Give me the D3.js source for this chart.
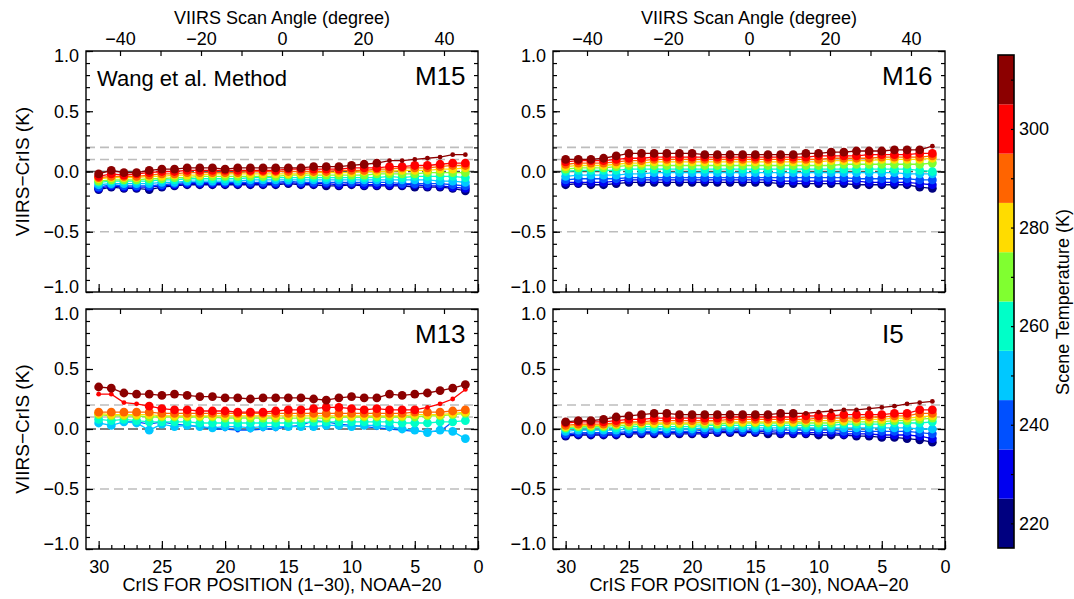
<!DOCTYPE html>
<html>
<head>
<meta charset="utf-8">
<script src="https://cdnjs.cloudflare.com/ajax/libs/d3/7.8.5/d3.min.js"></script>
<style>
  body { margin: 0; background: #fff; }
  text { font-family: 'Liberation Sans', Arial, sans-serif; fill: #000; }
</style>
</head>
<body>
<div id="chart"></div>
<script>
// ---------------------------------------------------------------
// data (each series: CrIS FOR 30 -> FOR 1, left to right)
// ---------------------------------------------------------------
var forPos = [30,29,28,27,26,25,24,23,22,21,20,19,18,17,16,15,14,13,12,11,10,9,8,7,6,5,4,3,2,1];
var tempBins = [220,230,240,250,260,270,280,290,300,310];
var binColors = ["#000080","#0000F0","#0050FF","#00C8FF","#00FFC8","#80FF30","#FFDC00","#FF6400","#FF0000","#8C0000"];
var angleTicks = [-40,-30,-20,-10,0,10,20,30,40];
var angleLabels = [-40,-20,0,20,40];
var forLabels = [30,25,20,15,10,5,0];
var yLabels = [-1.0,-0.5,0.0,0.5,1.0];
var refLines = [0.2,0.1,-0.5];
var cbLabels = [220,240,260,280,300];

var m15 = [
  [-0.15,-0.13,-0.14,-0.14,-0.15,-0.13,-0.12,-0.11,-0.11,-0.11,-0.11,-0.11,-0.11,-0.11,-0.11,-0.10,-0.11,-0.11,-0.12,-0.12,-0.11,-0.12,-0.12,-0.12,-0.12,-0.13,-0.13,-0.13,-0.14,-0.16],
  [-0.14,-0.12,-0.13,-0.13,-0.13,-0.12,-0.11,-0.10,-0.10,-0.10,-0.10,-0.10,-0.10,-0.10,-0.10,-0.09,-0.10,-0.10,-0.10,-0.11,-0.10,-0.11,-0.11,-0.11,-0.11,-0.11,-0.12,-0.12,-0.13,-0.14],
  [-0.13,-0.11,-0.12,-0.12,-0.12,-0.11,-0.10,-0.09,-0.09,-0.09,-0.09,-0.09,-0.09,-0.09,-0.09,-0.08,-0.09,-0.09,-0.09,-0.09,-0.09,-0.09,-0.09,-0.09,-0.10,-0.10,-0.10,-0.10,-0.11,-0.12],
  [-0.11,-0.10,-0.10,-0.10,-0.10,-0.09,-0.09,-0.08,-0.08,-0.08,-0.08,-0.08,-0.07,-0.07,-0.07,-0.07,-0.07,-0.07,-0.07,-0.07,-0.07,-0.07,-0.07,-0.07,-0.07,-0.07,-0.07,-0.08,-0.08,-0.09],
  [-0.09,-0.08,-0.08,-0.08,-0.08,-0.07,-0.07,-0.06,-0.06,-0.06,-0.06,-0.06,-0.05,-0.05,-0.05,-0.05,-0.05,-0.05,-0.05,-0.05,-0.05,-0.05,-0.05,-0.04,-0.05,-0.04,-0.04,-0.04,-0.04,-0.05],
  [-0.08,-0.07,-0.07,-0.07,-0.06,-0.06,-0.05,-0.05,-0.04,-0.04,-0.04,-0.04,-0.04,-0.04,-0.04,-0.03,-0.03,-0.03,-0.03,-0.03,-0.03,-0.03,-0.02,-0.02,-0.02,-0.02,-0.01,-0.01,-0.01,-0.01],
  [-0.06,-0.05,-0.05,-0.05,-0.04,-0.04,-0.03,-0.03,-0.03,-0.02,-0.02,-0.02,-0.02,-0.02,-0.02,-0.02,-0.02,-0.01,-0.01,-0.01,-0.01,0.00,0.00,0.00,0.01,0.01,0.01,0.02,0.02,0.03],
  [-0.05,-0.04,-0.04,-0.04,-0.03,-0.02,-0.02,-0.01,-0.01,-0.01,-0.01,-0.01,0.00,0.00,0.00,0.00,0.00,0.00,0.00,0.01,0.01,0.01,0.02,0.02,0.03,0.03,0.03,0.04,0.05,0.05],
  [-0.04,-0.02,-0.03,-0.02,-0.01,0.00,0.00,0.01,0.01,0.01,0.01,0.01,0.01,0.01,0.01,0.02,0.02,0.02,0.02,0.02,0.03,0.03,0.03,0.04,0.04,0.05,0.05,0.06,0.07,0.07],
  [-0.02,0.01,-0.01,-0.01,0.01,0.02,0.02,0.03,0.03,0.03,0.02,0.03,0.03,0.03,0.03,0.03,0.03,0.04,0.04,0.04,0.05,0.06,0.07,0.09,0.09,0.10,0.11,0.12,0.14,0.14]
];
var m16 = [
  [-0.11,-0.10,-0.11,-0.11,-0.10,-0.09,-0.09,-0.09,-0.09,-0.09,-0.09,-0.09,-0.09,-0.09,-0.09,-0.09,-0.09,-0.10,-0.10,-0.10,-0.10,-0.10,-0.10,-0.11,-0.11,-0.11,-0.11,-0.11,-0.13,-0.14],
  [-0.09,-0.09,-0.09,-0.09,-0.08,-0.07,-0.07,-0.07,-0.07,-0.07,-0.07,-0.07,-0.07,-0.07,-0.07,-0.07,-0.07,-0.08,-0.08,-0.08,-0.08,-0.08,-0.08,-0.08,-0.09,-0.09,-0.09,-0.09,-0.10,-0.11],
  [-0.07,-0.06,-0.06,-0.06,-0.06,-0.05,-0.05,-0.05,-0.05,-0.05,-0.05,-0.05,-0.05,-0.05,-0.05,-0.05,-0.05,-0.05,-0.05,-0.05,-0.05,-0.05,-0.05,-0.06,-0.06,-0.06,-0.06,-0.06,-0.07,-0.07],
  [-0.04,-0.03,-0.03,-0.03,-0.03,-0.02,-0.02,-0.01,-0.01,-0.01,-0.01,-0.01,-0.01,-0.01,-0.01,-0.01,-0.01,-0.01,-0.01,-0.01,-0.01,-0.01,-0.01,-0.01,-0.01,-0.01,-0.01,-0.02,-0.02,-0.02],
  [0.00,0.01,0.01,0.01,0.01,0.02,0.02,0.02,0.02,0.02,0.02,0.02,0.02,0.02,0.02,0.02,0.02,0.02,0.02,0.02,0.02,0.02,0.02,0.02,0.02,0.02,0.02,0.02,0.01,0.00],
  [0.02,0.03,0.03,0.03,0.04,0.05,0.05,0.05,0.05,0.05,0.05,0.05,0.05,0.05,0.05,0.05,0.05,0.05,0.05,0.05,0.05,0.05,0.06,0.06,0.06,0.06,0.06,0.06,0.06,0.07],
  [0.04,0.05,0.05,0.05,0.06,0.07,0.07,0.08,0.08,0.08,0.08,0.08,0.08,0.08,0.08,0.08,0.08,0.08,0.08,0.08,0.08,0.09,0.09,0.09,0.09,0.10,0.10,0.10,0.10,0.11],
  [0.06,0.07,0.07,0.07,0.08,0.09,0.09,0.10,0.10,0.10,0.10,0.10,0.10,0.10,0.10,0.10,0.10,0.10,0.10,0.10,0.10,0.11,0.11,0.11,0.11,0.12,0.12,0.12,0.12,0.13],
  [0.08,0.09,0.09,0.09,0.10,0.11,0.11,0.12,0.12,0.12,0.12,0.12,0.12,0.12,0.12,0.12,0.12,0.12,0.12,0.12,0.13,0.13,0.13,0.13,0.14,0.14,0.14,0.14,0.15,0.15],
  [0.10,0.10,0.10,0.11,0.13,0.15,0.15,0.15,0.15,0.15,0.15,0.14,0.14,0.14,0.14,0.14,0.14,0.14,0.14,0.15,0.15,0.16,0.16,0.17,0.17,0.17,0.18,0.18,0.18,0.21]
];
var m13 = [
  null,
  null,
  [null,null,0.06,0.06,0.04,0.06,0.04,0.03,0.02,0.00,0.00,-0.01,-0.01,0.00,0.00,0.02,0.03,0.07,0.06,0.04,0.03,0.02,0.01,0.00,-0.01,-0.02,-0.02,-0.02,0.06,null],
  [0.05,0.03,0.06,0.05,-0.01,0.04,0.02,0.03,0.02,0.01,0.02,0.02,0.01,0.02,0.02,0.02,0.02,0.02,0.03,0.03,0.02,0.03,0.03,0.02,0.00,-0.01,-0.03,-0.01,-0.02,-0.08],
  [0.08,0.07,0.08,0.07,0.06,0.06,0.06,0.06,0.05,0.05,0.05,0.05,0.05,0.05,0.05,0.05,0.05,0.06,0.06,0.06,0.06,0.06,0.06,0.06,0.05,0.05,0.05,0.06,0.06,0.07],
  [0.12,0.11,0.11,0.11,0.10,0.10,0.10,0.10,0.10,0.10,0.09,0.09,0.09,0.09,0.09,0.09,0.09,0.09,0.09,0.10,0.10,0.10,0.10,0.10,0.10,0.10,0.11,0.11,0.12,0.13],
  [0.13,0.12,0.12,0.12,0.12,0.11,0.11,0.11,0.11,0.11,0.11,0.11,0.11,0.11,0.11,0.11,0.11,0.11,0.11,0.11,0.11,0.11,0.11,0.11,0.11,0.12,0.12,0.12,0.13,0.14],
  [0.14,0.14,0.14,0.14,0.14,0.13,0.13,0.13,0.13,0.13,0.13,0.13,0.13,0.13,0.13,0.13,0.13,0.13,0.13,0.13,0.13,0.13,0.13,0.13,0.13,0.14,0.14,0.14,0.15,0.16],
  [0.29,0.29,0.22,0.21,0.19,0.17,0.16,0.16,0.15,0.15,0.15,0.14,0.14,0.14,0.15,0.16,0.16,0.17,0.18,0.18,0.17,0.16,0.17,0.16,0.16,0.16,0.18,0.21,0.25,0.33],
  [0.35,0.34,0.30,0.29,0.29,0.28,0.29,0.28,0.27,0.27,0.26,0.26,0.25,0.26,0.26,0.26,0.26,0.25,0.24,0.26,0.27,0.26,0.26,0.29,0.28,0.29,0.30,0.32,0.34,0.37]
];
var i5 = [
  [-0.06,-0.05,-0.05,-0.05,-0.05,-0.04,-0.04,-0.04,-0.04,-0.04,-0.04,-0.04,-0.03,-0.03,-0.03,-0.03,-0.04,-0.04,-0.04,-0.04,-0.05,-0.05,-0.05,-0.06,-0.06,-0.07,-0.07,-0.08,-0.09,-0.11],
  [-0.05,-0.04,-0.04,-0.04,-0.04,-0.03,-0.03,-0.03,-0.03,-0.03,-0.03,-0.03,-0.02,-0.02,-0.02,-0.02,-0.02,-0.03,-0.03,-0.03,-0.03,-0.03,-0.04,-0.04,-0.04,-0.05,-0.05,-0.05,-0.06,-0.08],
  [-0.04,-0.03,-0.03,-0.03,-0.03,-0.02,-0.02,-0.02,-0.02,-0.02,-0.02,-0.01,-0.01,-0.01,-0.01,-0.01,-0.01,-0.01,-0.01,-0.01,-0.01,-0.01,-0.02,-0.02,-0.02,-0.02,-0.02,-0.02,-0.03,-0.04],
  [-0.02,-0.01,-0.01,-0.01,-0.01,0.00,0.00,0.00,0.00,0.00,0.00,0.01,0.01,0.01,0.01,0.01,0.01,0.01,0.01,0.01,0.01,0.01,0.01,0.01,0.01,0.01,0.01,0.01,0.00,0.00],
  [0.00,0.01,0.01,0.01,0.01,0.02,0.02,0.02,0.02,0.02,0.02,0.03,0.03,0.03,0.03,0.03,0.03,0.03,0.03,0.03,0.03,0.03,0.04,0.04,0.04,0.04,0.05,0.05,0.05,0.06],
  [0.01,0.02,0.02,0.02,0.03,0.03,0.04,0.04,0.04,0.04,0.04,0.04,0.04,0.05,0.05,0.05,0.05,0.05,0.05,0.05,0.05,0.05,0.06,0.06,0.06,0.06,0.07,0.07,0.08,0.09],
  [0.02,0.03,0.03,0.03,0.04,0.05,0.05,0.05,0.05,0.05,0.05,0.06,0.06,0.06,0.06,0.06,0.06,0.06,0.06,0.07,0.07,0.07,0.07,0.08,0.08,0.08,0.09,0.09,0.10,0.11],
  [0.03,0.04,0.04,0.04,0.05,0.06,0.06,0.07,0.07,0.07,0.07,0.07,0.07,0.08,0.08,0.08,0.08,0.08,0.08,0.08,0.09,0.09,0.09,0.09,0.10,0.10,0.11,0.11,0.13,0.13],
  [0.05,0.06,0.06,0.06,0.07,0.08,0.08,0.09,0.09,0.09,0.09,0.09,0.09,0.10,0.10,0.10,0.10,0.10,0.10,0.11,0.11,0.11,0.12,0.12,0.12,0.12,0.13,0.13,0.16,0.16],
  [0.06,0.07,0.07,0.08,0.10,0.11,0.12,0.13,0.13,0.12,0.12,0.12,0.12,0.12,0.12,0.12,0.12,0.13,0.13,0.13,0.14,0.15,0.16,0.16,0.17,0.18,0.19,0.21,0.22,0.23]
];

// points drawn with a small symbol (few samples): [bin index, point indices]
var m15Small = [[9, [23,24,25,26,27,28,29]]];
var m16Small = [[9, [29]]];
var m13Small = [[2, [2,3,4,5,6,7,8,9,10,11,12,13,14,15,16,17,18,19,20,21,22,23,24,25,26,27,28]], [8, [0,1,2,3,26,27,28,29]]];
var i5Small = [[9, [19,20,21,22,23,24,25,26,27,28,29]]];

var panelNames = ["M15","M16","M13","I5"];
var panelData = [m15, m16, m13, i5];
var panelSmall = [m15Small, m16Small, m13Small, i5Small];

// ---------------------------------------------------------------
// layout
// ---------------------------------------------------------------
var W = 1074, H = 599;
var colX = [86, 553], panelW = 392;
var rowY = [[51, 292], [309, 549]];
var font = 18;

var svg = d3.select("#chart").append("svg")
  .attr("width", W).attr("height", H);

var line = d3.line()
  .defined(function(d) { return d.v !== null; })
  .x(function(d) { return d.x; })
  .y(function(d) { return d.y; });

function styleAxis(g) {
  g.attr("font-size", font).attr("font-family", "'Liberation Sans', Arial, sans-serif");
  g.select(".domain").remove();
  g.selectAll(".tick line").attr("stroke", "#000").attr("stroke-width", 1.2);
  g.selectAll("text").attr("fill", "#000");
}

panelNames.forEach(function(name, p) {
  var col = p % 2, row = Math.floor(p / 2);
  var x0 = colX[col], x1 = x0 + panelW;
  var yTop = rowY[row][0], yBot = rowY[row][1];

  var x = d3.scaleLinear().domain([31, 0]).range([x0, x1]);
  var xAng = d3.scaleLinear().domain([-48.4, 48.4]).range([x0, x1]);
  var y = d3.scaleLinear().domain([-1, 1]).range([yBot, yTop]);

  var g = svg.append("g");

  // reference lines
  g.selectAll(".ref").data(refLines).enter().append("line")
    .attr("x1", x0).attr("x2", x1)
    .attr("y1", function(d) { return y(d); }).attr("y2", function(d) { return y(d); })
    .attr("stroke", "#bdbdbd").attr("stroke-width", 1.6).attr("stroke-dasharray", "9,5");
  g.append("line")
    .attr("x1", x0).attr("x2", x1).attr("y1", y(0)).attr("y2", y(0))
    .attr("stroke", "#555").attr("stroke-width", 1.6).attr("stroke-dasharray", "10,4");

  // series, cold first
  var smallLookup = {};
  panelSmall[p].forEach(function(s) { smallLookup[s[0]] = s[1]; });

  panelData[p].forEach(function(series, b) {
    if (!series) return;
    var pts = series.map(function(v, i) {
      return { v: v, x: x(forPos[i]), y: v === null ? 0 : y(v), i: i };
    });
    var small = smallLookup[b] || [];
    g.append("path").datum(pts)
      .attr("d", line)
      .attr("fill", "none")
      .attr("stroke", binColors[b])
      .attr("stroke-width", 1.3);
    g.selectAll(null).data(pts.filter(function(d) { return d.v !== null; }))
      .enter().append("circle")
      .attr("cx", function(d) { return d.x; })
      .attr("cy", function(d) { return d.y; })
      .attr("r", function(d) { return small.indexOf(d.i) >= 0 ? 2.4 : 4.4; })
      .attr("fill", binColors[b]);
  });

  // y ticks left and right (inward)
  var yMinor = d3.range(-10, 11).map(function(k) { return k / 10; });
  [["L", x0], ["R", x1]].forEach(function(side) {
    var axMinor = side[0] === "L" ? d3.axisLeft(y) : d3.axisRight(y);
    var axMajor = side[0] === "L" ? d3.axisLeft(y) : d3.axisRight(y);
    g.append("g").attr("transform", "translate(" + side[1] + ",0)")
      .call(axMinor.tickValues(yMinor).tickSize(-4).tickFormat(""))
      .call(styleAxis);
    var gm = g.append("g").attr("transform", "translate(" + side[1] + ",0)")
      .call(axMajor.tickValues(yLabels).tickSize(-7).tickPadding(7)
        .tickFormat(side[0] === "L" ? d3.format(".1f") : ""))
      .call(styleAxis);
    // keep end labels inside the frame
    gm.selectAll(".tick text").attr("y", function(d) { return d === 1 ? 5 : (d === -1 ? -5 : 0); });
  });

  // bottom ticks (CrIS FOR)
  var gb = g.append("g").attr("transform", "translate(0," + yBot + ")");
  gb.append("g").call(d3.axisBottom(x).tickValues(d3.range(0, 31)).tickSize(-4).tickFormat("")).call(styleAxis);
  gb.append("g").call(d3.axisBottom(x).tickValues(forLabels).tickSize(-8).tickPadding(11)
      .tickFormat(row === 1 ? d3.format("d") : "")).call(styleAxis);

  // top ticks (scan angle)
  var gt = g.append("g").attr("transform", "translate(0," + yTop + ")");
  gt.append("g").call(d3.axisTop(xAng).tickValues(angleTicks).tickSize(-5).tickFormat("")).call(styleAxis);
  if (row === 0) {
    gt.append("g").call(d3.axisTop(xAng).tickValues(angleLabels).tickSize(0).tickPadding(6)
      .tickFormat(d3.format("d"))).call(styleAxis);
    g.append("text")
      .attr("x", (x0 + x1) / 2).attr("y", 24)
      .attr("text-anchor", "middle").attr("font-size", font)
      .text("VIIRS Scan Angle (degree)");
  } else {
    g.append("text")
      .attr("x", (x0 + x1) / 2).attr("y", 591)
      .attr("text-anchor", "middle").attr("font-size", font)
      .text("CrIS FOR POSITION (1\u221230), NOAA\u221220");
  }

  if (col === 0) {
    g.append("text")
      .attr("transform", "translate(29," + ((yTop + yBot) / 2) + ") rotate(-90)")
      .attr("text-anchor", "middle").attr("font-size", 19)
      .text("VIIRS\u2212CrIS (K)");
  }

  // frame
  g.append("rect")
    .attr("x", x0).attr("y", yTop).attr("width", panelW).attr("height", yBot - yTop)
    .attr("fill", "none").attr("stroke", "#000").attr("stroke-width", 1.4);

  // panel labels
  g.append("text")
    .attr("x", x0 + 329).attr("y", yTop + 34)
    .attr("font-size", 26)
    .text(name);
  if (p === 0) {
    g.append("text")
      .attr("x", x0 + 11).attr("y", yTop + 35)
      .attr("font-size", 22)
      .text("Wang et al. Method");
  }
});

// ---------------------------------------------------------------
// colour bar
// ---------------------------------------------------------------
var cbX = 998, cbW = 16;
var cbY = d3.scaleLinear().domain([215, 315]).range([548, 55]);
var cb = svg.append("g");
cb.selectAll("rect.bin").data(tempBins).enter().append("rect")
  .attr("class", "bin")
  .attr("x", cbX).attr("width", cbW)
  .attr("y", function(d) { return cbY(d + 5); })
  .attr("height", function(d) { return cbY(d - 5) - cbY(d + 5); })
  .attr("fill", function(d, i) { return binColors[i]; });
cb.append("g").attr("transform", "translate(" + (cbX + cbW) + ",0)")
  .call(d3.axisRight(cbY).tickValues(tempBins).tickSize(-3).tickFormat(""))
  .call(styleAxis);
cb.append("g").attr("transform", "translate(" + (cbX + cbW) + ",0)")
  .call(d3.axisRight(cbY).tickValues(cbLabels).tickSize(0).tickPadding(5).tickFormat(d3.format("d")))
  .call(styleAxis);
cb.append("rect")
  .attr("x", cbX).attr("y", 55).attr("width", cbW).attr("height", 548 - 55)
  .attr("fill", "none").attr("stroke", "#000").attr("stroke-width", 1.6);
cb.append("text")
  .attr("transform", "translate(1069,302) rotate(-90)")
  .attr("text-anchor", "middle").attr("font-size", font)
  .text("Scene Temperature (K)");
</script>
</body>
</html>
